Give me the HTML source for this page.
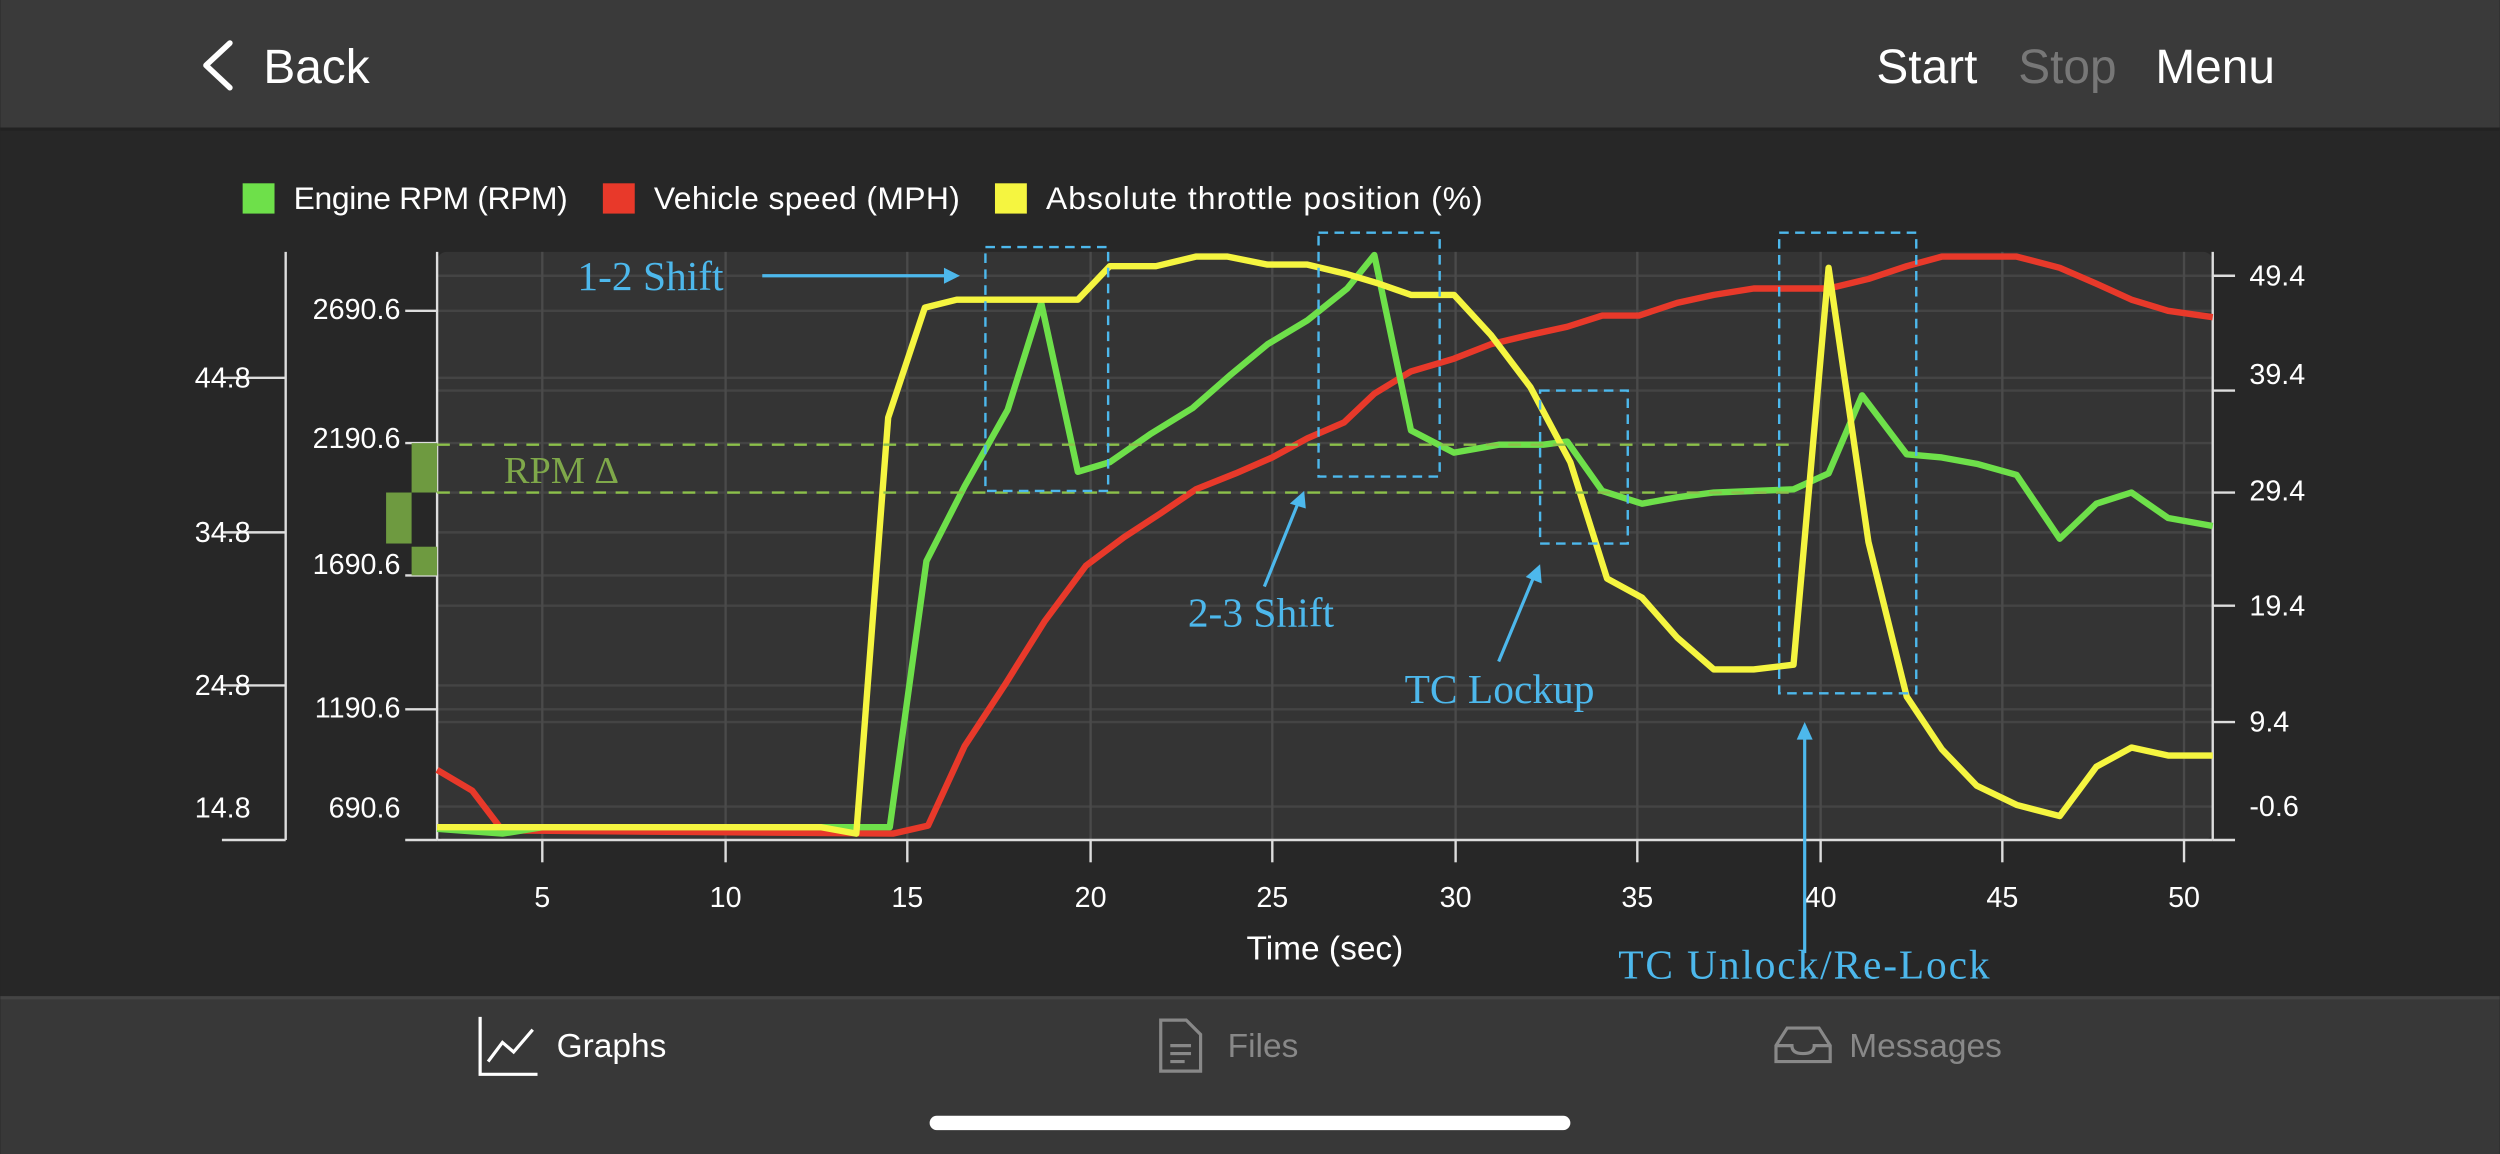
<!DOCTYPE html>
<html><head><meta charset="utf-8"><style>
html,body{margin:0;padding:0;background:#272727;}
svg{display:block;}
.s{font-family:"Liberation Sans",sans-serif;}
.f{font-family:"Liberation Serif",serif;fill:#4db8ec;font-size:26px;}
</style></head><body>
<svg width="2500" height="1154" viewBox="0 0 1568 724" xmlns="http://www.w3.org/2000/svg">
<rect x="0" y="0" width="1568" height="724" fill="#272727"/>
<rect x="0" y="0" width="1568" height="80" fill="#3a3a3a"/>
<rect x="0" y="80" width="1568" height="2" fill="#222"/>
<polyline points="144,27 129,41 144,55" fill="none" stroke="#fff" stroke-width="3.5" stroke-linecap="round" stroke-linejoin="round"/>
<text x="165" y="52" class="s" font-size="30" fill="#fff">Back</text>
<text x="1177" y="52" class="s" font-size="30" fill="#fff">Start</text>
<text x="1266" y="52" class="s" font-size="30" fill="#777">Stop</text>
<text x="1352" y="52" class="s" font-size="30" fill="#fff">Menu</text>

<rect x="152" y="115" width="20" height="19" fill="#6ee04a"/>
<text x="184" y="131" class="s" font-size="20" fill="#fff" textLength="172">Engine RPM (RPM)</text>
<rect x="378" y="115" width="20" height="19" fill="#e8392a"/>
<text x="410" y="131" class="s" font-size="20" fill="#fff" textLength="192">Vehicle speed (MPH)</text>
<rect x="624" y="115" width="20" height="19" fill="#f5f540"/>
<text x="656" y="131" class="s" font-size="20" fill="#fff" textLength="274">Absolute throttle position (%)</text>

<rect x="274" y="158" width="1114" height="369" rx="6" fill="#343434"/>
<g stroke="#444" stroke-width="1.5">
<line x1="274" y1="173" x2="1388" y2="173"/><line x1="274" y1="195" x2="1388" y2="195"/>
<line x1="274" y1="237" x2="1388" y2="237"/><line x1="274" y1="245" x2="1388" y2="245"/>
<line x1="274" y1="278" x2="1388" y2="278"/><line x1="274" y1="309" x2="1388" y2="309"/>
<line x1="274" y1="334" x2="1388" y2="334"/><line x1="274" y1="361" x2="1388" y2="361"/>
<line x1="274" y1="380" x2="1388" y2="380"/><line x1="274" y1="430" x2="1388" y2="430"/>
<line x1="274" y1="445" x2="1388" y2="445"/><line x1="274" y1="453" x2="1388" y2="453"/>
<line x1="274" y1="506" x2="1388" y2="506"/>
</g>
<g stroke="#4a4a4a" stroke-width="1.5">
<line x1="340" y1="158" x2="340" y2="527"/><line x1="455" y1="158" x2="455" y2="527"/>
<line x1="569" y1="158" x2="569" y2="527"/><line x1="684" y1="158" x2="684" y2="527"/>
<line x1="798" y1="158" x2="798" y2="527"/><line x1="913" y1="158" x2="913" y2="527"/>
<line x1="1027" y1="158" x2="1027" y2="527"/><line x1="1142" y1="158" x2="1142" y2="527"/>
<line x1="1256" y1="158" x2="1256" y2="527"/><line x1="1370" y1="158" x2="1370" y2="527"/>
</g>
<g stroke="#ddd" stroke-width="1.5" fill="none">
<line x1="179" y1="158" x2="179" y2="527"/>
<line x1="139" y1="237" x2="179" y2="237"/><line x1="139" y1="334" x2="179" y2="334"/>
<line x1="139" y1="430" x2="179" y2="430"/><line x1="139" y1="527" x2="179" y2="527"/>
<line x1="274" y1="158" x2="274" y2="527"/>
<line x1="254" y1="195" x2="274" y2="195"/><line x1="254" y1="278" x2="274" y2="278"/>
<line x1="254" y1="361" x2="274" y2="361"/><line x1="254" y1="445" x2="274" y2="445"/><line x1="254" y1="527" x2="274" y2="527"/>
<line x1="1388" y1="158" x2="1388" y2="527"/>
<line x1="1388" y1="173" x2="1402" y2="173"/><line x1="1388" y1="245" x2="1402" y2="245"/>
<line x1="1388" y1="309" x2="1402" y2="309"/><line x1="1388" y1="380" x2="1402" y2="380"/>
<line x1="1388" y1="453" x2="1402" y2="453"/><line x1="1388" y1="527" x2="1402" y2="527"/>
<line x1="274" y1="527" x2="1388" y2="527"/>
<line x1="340" y1="527" x2="340" y2="541"/><line x1="455" y1="527" x2="455" y2="541"/>
<line x1="569" y1="527" x2="569" y2="541"/><line x1="684" y1="527" x2="684" y2="541"/>
<line x1="798" y1="527" x2="798" y2="541"/><line x1="913" y1="527" x2="913" y2="541"/>
<line x1="1027" y1="527" x2="1027" y2="541"/><line x1="1142" y1="527" x2="1142" y2="541"/>
<line x1="1256" y1="527" x2="1256" y2="541"/><line x1="1370" y1="527" x2="1370" y2="541"/>
</g>
<g class="s" font-size="18" fill="#fff">
<g text-anchor="end">
<text x="157" y="243">44.8</text><text x="157" y="340">34.8</text>
<text x="157" y="436">24.8</text><text x="157" y="513">14.8</text>
<text x="251" y="200">2690.6</text><text x="251" y="281">2190.6</text>
<text x="251" y="360">1690.6</text><text x="251" y="450">1190.6</text><text x="251" y="513">690.6</text>
</g>
<text x="1411" y="179">49.4</text><text x="1411" y="241">39.4</text>
<text x="1411" y="314">29.4</text><text x="1411" y="386">19.4</text>
<text x="1411" y="459">9.4</text><text x="1411" y="512">-0.6</text>
<g text-anchor="middle">
<text x="340" y="569">5</text><text x="455" y="569">10</text><text x="569" y="569">15</text>
<text x="684" y="569">20</text><text x="798" y="569">25</text><text x="913" y="569">30</text>
<text x="1027" y="569">35</text><text x="1142" y="569">40</text><text x="1256" y="569">45</text><text x="1370" y="569">50</text>
<text x="831" y="602" font-size="21">Time (sec)</text>
</g>
</g>

<g fill="none" stroke-width="4" stroke-linejoin="round">
<polyline stroke="#e8392a" points="274,483 296,496 315,521 560,523 582,518 605,468 630,430 655,390 681,355 705,337 728,322 750,307 775,297 798,287 820,275 843,265 862,247 885,233 912,225 935,216 960,210 983,205 1005,198 1028,198 1052,190 1075,185 1100,181 1147,181 1172,175 1196,167 1218,161 1265,161 1292,168 1315,178 1337,188 1360,195 1388,199"/>
<polyline stroke="#6ee04a" points="274,520 315,523 340,519 558,519 581,352 605,305 632,257 653,190 676,296 696,290 722,272 748,256 772,235 795,216 820,201 845,181 862,160 885,270 912,284 940,279 968,279 983,277 1005,308 1030,316 1052,312 1075,309 1125,307 1147,297 1168,248 1196,285 1218,287 1240,291 1265,298 1292,338 1315,316 1337,309 1360,325 1388,330"/>
<polyline stroke="#f5f540" points="274,519 515,519 537,523 557,262 580,193 600,188 676,188 696,167 725,167 750,161 770,161 795,166 820,166 845,172 865,178 885,185 912,185 935,210 960,243 985,290 1008,363 1030,375 1052,400 1075,420 1100,420 1125,417 1147,168 1172,340 1196,437 1218,470 1240,493 1265,505 1292,512 1315,481 1337,469 1360,474 1388,474"/>
</g>

<g fill="#6e9a40">
<rect x="258" y="278" width="16" height="31"/>
<rect x="242" y="309" width="16" height="32"/>
<rect x="258" y="343" width="16" height="18"/>
</g>
<g stroke="#8cc04a" stroke-width="1.5" stroke-dasharray="8,6">
<line x1="274" y1="279" x2="1124" y2="279"/>
<line x1="274" y1="309" x2="1124" y2="309"/>
</g>
<text x="316" y="303" font-family="Liberation Serif,serif" font-size="24" fill="#7fa84a">RPM Δ</text>

<g fill="none" stroke="#4db8ec" stroke-width="1.5" stroke-dasharray="6,4">
<rect x="618" y="155" width="77" height="153"/>
<rect x="827" y="146" width="76" height="153"/>
<rect x="966" y="245" width="55" height="96"/>
<rect x="1116" y="146" width="86" height="289"/>
</g>
<g stroke="#4db8ec" stroke-width="2" fill="#4db8ec">
<line x1="478" y1="173" x2="594" y2="173"/><polygon points="602,173 592,168 592,178" stroke="none"/>
<line x1="793" y1="368" x2="814" y2="316"/><polygon points="818,308 809,316 819,319" stroke="none"/>
<line x1="940" y1="415" x2="962" y2="362"/><polygon points="966,354 957,362 967,366" stroke="none"/>
<line x1="1132" y1="598" x2="1132" y2="462"/><polygon points="1132,453 1127,464 1137,464" stroke="none"/>
</g>
<text x="362" y="182" class="f">1-2 Shift</text>
<text x="745" y="393" class="f">2-3 Shift</text>
<text x="881" y="441" class="f">TC Lockup</text>
<text x="1015" y="614" class="f" textLength="233">TC Unlock/Re-Lock</text>

<rect x="0" y="625" width="1568" height="99" fill="#383838"/>
<rect x="0" y="625" width="1568" height="2" fill="#444"/>
<g fill="none" stroke-width="2">
<polyline stroke="#fff" points="301,638 301,674 337,674"/>
<polyline stroke="#fff" points="306,666 315,654 322,660 334,646"/>
<path stroke="#888" d="M728,640 h16 l9,9 v23 h-25 z M734,656 h13 M734,661 h13 M734,666 h9"/>
<path stroke="#888" d="M1114,656 l7,-11 h20 l7,11 v10 h-34 z M1114,656 h10 q0,5 7,5 q7,0 7,-5 h10"/>
</g>
<text x="349" y="663" class="s" font-size="21" fill="#fff">Graphs</text>
<text x="770" y="663" class="s" font-size="21" fill="#888">Files</text>
<text x="1160" y="663" class="s" font-size="21" fill="#888">Messages</text>
<rect x="583" y="700" width="402" height="9" rx="4.5" fill="#fff"/>
</svg>
</body></html>
